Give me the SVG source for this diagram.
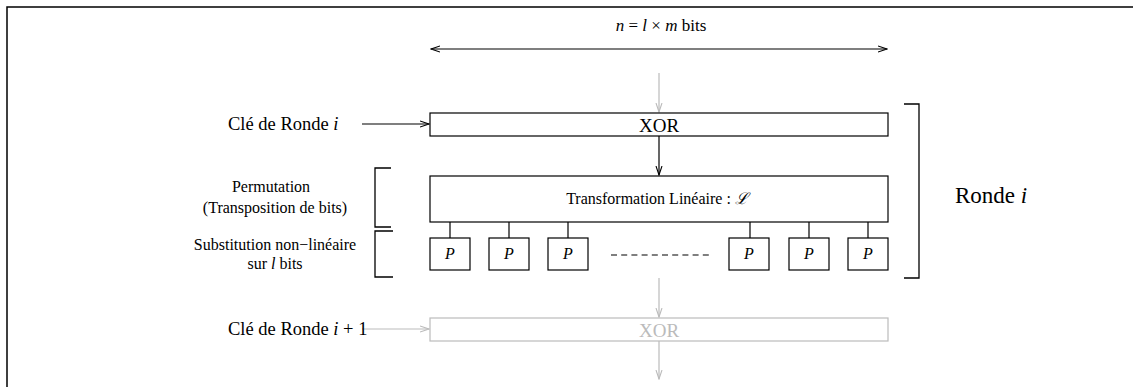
<svg xmlns="http://www.w3.org/2000/svg" width="1133" height="387" viewBox="0 0 1133 387">
<style>
text{font-family:"Liberation Serif","Times New Roman",serif;fill:#000}
.m{font-style:italic}
.box{fill:#fff;stroke:#000;stroke-width:1.2}
.gbox{fill:#fff;stroke:#bbb;stroke-width:1.2}
.ln{stroke:#000;stroke-width:1.2;fill:none}
.gl{stroke:#bbb;stroke-width:1.2;fill:none}
.br{stroke:#000;stroke-width:1.3;fill:none}
</style>
<defs>
<marker id="ah" markerWidth="10" markerHeight="8" refX="9" refY="4" orient="auto" markerUnits="userSpaceOnUse">
<path d="M0,1 L9,4 L0,7" fill="none" stroke="#000" stroke-width="1.1"/>
</marker>
<marker id="ahs" markerWidth="10" markerHeight="8" refX="1" refY="4" orient="auto" markerUnits="userSpaceOnUse">
<path d="M10,1 L1,4 L10,7" fill="none" stroke="#000" stroke-width="1.1"/>
</marker>
<marker id="gah" markerWidth="10" markerHeight="8" refX="9" refY="4" orient="auto" markerUnits="userSpaceOnUse">
<path d="M0,1 L9,4 L0,7" fill="none" stroke="#bbb" stroke-width="1.1"/>
</marker>
</defs>
<rect width="1133" height="387" fill="#fff"/>
<path d="M7,387 V7 H1133" fill="none" stroke="#000" stroke-width="1.5"/>

<g id="width-label">
<text x="661" y="31" text-anchor="middle" font-size="17"><tspan class="m">n</tspan> = <tspan class="m">l</tspan> × <tspan class="m">m</tspan> bits</text>
</g>

<g id="connectors">
<line class="ln" x1="431" y1="49" x2="887" y2="49" marker-start="url(#ahs)" marker-end="url(#ah)"/>
<line class="gl" x1="659" y1="73" x2="659" y2="112" marker-end="url(#gah)"/>
<line class="ln" x1="362" y1="124" x2="429" y2="124" marker-end="url(#ah)"/>
<line class="ln" x1="659" y1="136" x2="659" y2="175" marker-end="url(#ah)"/>
<g class="ln">
<line x1="450" y1="222" x2="450" y2="238"/>
<line x1="509" y1="222" x2="509" y2="238"/>
<line x1="568" y1="222" x2="568" y2="238"/>
<line x1="750" y1="222" x2="750" y2="238"/>
<line x1="809" y1="222" x2="809" y2="238"/>
<line x1="868" y1="222" x2="868" y2="238"/>
</g>
<line class="ln" x1="611" y1="255" x2="710" y2="255" stroke-dasharray="6,4.2"/>
<line class="gl" x1="659" y1="278" x2="659" y2="317" marker-end="url(#gah)"/>
<line class="gl" x1="362" y1="329" x2="429" y2="329" marker-end="url(#gah)"/>
<line class="gl" x1="659" y1="341" x2="659" y2="379" marker-end="url(#gah)"/>
</g>

<g id="key-i">
<text x="228" y="130" font-size="18.5">Clé de Ronde <tspan class="m">i</tspan></text>
</g>

<g id="xor">
<rect class="box" x="430" y="113" width="458" height="23"/>
<text x="659" y="131.5" text-anchor="middle" font-size="19">XOR</text>
</g>

<g id="linear">
<rect class="box" x="430" y="176" width="458" height="46"/>
<text x="657" y="204" text-anchor="middle" font-size="16">Transformation Linéaire : <tspan font-family="'DejaVu Serif',serif" font-style="italic">ℒ</tspan></text>
</g>

<g id="sboxes">
<g id="p1"><rect class="box" x="430" y="238" width="40" height="32"/><text x="450" y="259" text-anchor="middle" font-size="16" class="m">P</text></g>
<g id="p2"><rect class="box" x="489" y="238" width="40" height="32"/><text x="509" y="259" text-anchor="middle" font-size="16" class="m">P</text></g>
<g id="p3"><rect class="box" x="548" y="238" width="40" height="32"/><text x="568" y="259" text-anchor="middle" font-size="16" class="m">P</text></g>
<g id="p4"><rect class="box" x="729" y="238" width="40" height="32"/><text x="749" y="259" text-anchor="middle" font-size="16" class="m">P</text></g>
<g id="p5"><rect class="box" x="789" y="238" width="40" height="32"/><text x="809" y="259" text-anchor="middle" font-size="16" class="m">P</text></g>
<g id="p6"><rect class="box" x="848" y="238" width="40" height="32"/><text x="868" y="259" text-anchor="middle" font-size="16" class="m">P</text></g>
</g>

<g id="perm-label">
<path class="br" d="M391,168 H375 V227 H391"/>
<text x="271" y="192" text-anchor="middle" font-size="16">Permutation</text>
<text x="275" y="213" text-anchor="middle" font-size="16">(Transposition de bits)</text>
</g>

<g id="subst-label">
<path class="br" d="M393,231 H375 V277 H393"/>
<text x="275" y="250" text-anchor="middle" font-size="16">Substitution non−linéaire</text>
<text x="275" y="269" text-anchor="middle" font-size="16">sur <tspan class="m">l</tspan> bits</text>
</g>

<g id="round-label">
<path class="br" d="M904,104 H919 V278 H904"/>
<text x="955" y="203" font-size="23">Ronde <tspan class="m">i</tspan></text>
</g>

<g id="key-next">
<text x="228" y="335" font-size="18.5">Clé de Ronde <tspan class="m">i</tspan> + 1</text>
</g>

<g id="xor-next">
<rect class="gbox" x="430" y="318" width="458" height="23"/>
<text x="659" y="336.5" text-anchor="middle" font-size="19" style="fill:#bbb">XOR</text>
</g>
</svg>
